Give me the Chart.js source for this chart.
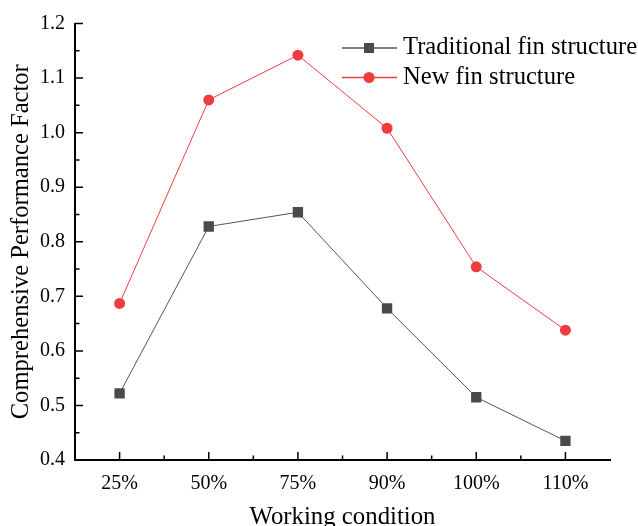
<!DOCTYPE html>
<html>
<head>
<meta charset="utf-8">
<script src="https://cdn.jsdelivr.net/npm/chart.js@4"></script>
<style>
  html, body { margin: 0; padding: 0; background: #fff; }
  #wrap { width: 638px; height: 526px; }
</style>
</head>
<body>
<div id="wrap"><canvas id="c" width="638" height="526"></canvas></div>
<script>
const categories = ['25%', '50%', '75%', '90%', '100%', '110%'];
const traditional = [0.522, 0.828, 0.854, 0.678, 0.515, 0.435];
const newFin = [0.687, 1.060, 1.142, 1.008, 0.754, 0.638];
const seriesNames = ['Traditional fin structure', 'New fin structure'];
const yTicks = [0.4, 0.5, 0.6, 0.7, 0.8, 0.9, 1.0, 1.1, 1.2];

const FONT = "'Liberation Serif', 'Times New Roman', serif";

const tickPlugin = {
  id: 'ticksAndLegend',
  afterDraw(chart) {
    const ctx = chart.ctx;
    const xs = chart.scales.x, ys = chart.scales.y;
    const area = chart.chartArea;
    ctx.save();
    ctx.strokeStyle = '#000';
    ctx.lineWidth = 1.5;
    ctx.beginPath();
    for (let i = 0; i < categories.length; i++) {
      const px = xs.getPixelForValue(i);
      ctx.moveTo(px, area.bottom); ctx.lineTo(px, area.bottom - 8);
      if (i < categories.length - 1) {
        const mx = (px + xs.getPixelForValue(i + 1)) / 2;
        ctx.moveTo(mx, area.bottom); ctx.lineTo(mx, area.bottom - 4.5);
      }
    }
    for (let i = 0; i < yTicks.length; i++) {
      const py = ys.getPixelForValue(yTicks[i]);
      ctx.moveTo(area.left, py); ctx.lineTo(area.left + 8, py);
      if (i < yTicks.length - 1) {
        const my = ys.getPixelForValue((yTicks[i] + yTicks[i + 1]) / 2);
        ctx.moveTo(area.left, my); ctx.lineTo(area.left + 4.5, my);
      }
    }
    ctx.stroke();

    const rows = [48, 77.5];
    chart.data.datasets.forEach((ds, i) => {
      const y = rows[i];
      ctx.strokeStyle = ds.borderColor;
      ctx.lineWidth = 1.5;
      ctx.beginPath();
      ctx.moveTo(342, y); ctx.lineTo(397, y);
      ctx.stroke();
      ctx.fillStyle = ds.pointBackgroundColor;
      if (ds.pointStyle === 'rect') {
        ctx.fillRect(364, y - 5, 10, 10);
      } else {
        ctx.beginPath();
        ctx.arc(369, y, 5.5, 0, Math.PI * 2);
        ctx.fill();
      }
      ctx.fillStyle = '#000';
      ctx.font = '24.6px ' + FONT;
      ctx.textBaseline = 'middle';
      ctx.textAlign = 'left';
      ctx.fillText(ds.label, 403, y);
    });
    ctx.restore();
  }
};

new Chart(document.getElementById('c'), {
  type: 'line',
  data: {
    labels: categories,
    datasets: [
      {
        label: seriesNames[0],
        data: traditional,
        borderColor: '#555555',
        borderWidth: 1,
        pointStyle: 'rect',
        pointRadius: 7.3,
        pointBackgroundColor: '#4a4a4a',
        pointBorderColor: '#4a4a4a',
        pointBorderWidth: 0,
        tension: 0
      },
      {
        label: seriesNames[1],
        data: newFin,
        borderColor: '#f03c3f',
        borderWidth: 1,
        pointStyle: 'circle',
        pointRadius: 5.5,
        pointBackgroundColor: '#f03c3f',
        pointBorderColor: '#f03c3f',
        pointBorderWidth: 0,
        tension: 0
      }
    ]
  },
  options: {
    responsive: false,
    animation: false,
    devicePixelRatio: 1,
    layout: { padding: { top: 23.5, right: 28, left: 0, bottom: 0 } },
    plugins: { legend: { display: false }, tooltip: { enabled: false } },
    scales: {
      x: {
        type: 'category',
        offset: true,
        grid: { display: false, drawTicks: false },
        border: { display: true, color: '#000', width: 2 },
        ticks: { color: '#000', font: { family: FONT, size: 20 }, padding: 12, maxRotation: 0 },
        title: { display: true, text: 'Working condition', color: '#000',
                 font: { family: FONT, size: 24.8, lineHeight: 1 }, padding: { top: 0, bottom: -4 } },
        afterFit(s) { s.height = 66; }
      },
      y: {
        min: 0.4, max: 1.2,
        grid: { display: false, drawTicks: false },
        border: { display: true, color: '#000', width: 2 },
        ticks: { color: '#000', font: { family: FONT, size: 20 }, padding: 10, stepSize: 0.1,
                 callback: v => Number(v).toFixed(1) },
        title: { display: true, text: 'Comprehensive Performance Factor', color: '#000',
                 font: { family: FONT, size: 24.6, lineHeight: 1 }, padding: { top: 9, bottom: 0 } },
        afterFit(s) { s.width = 75; }
      }
    }
  },
  plugins: [tickPlugin]
});
</script>
</body>
</html>
